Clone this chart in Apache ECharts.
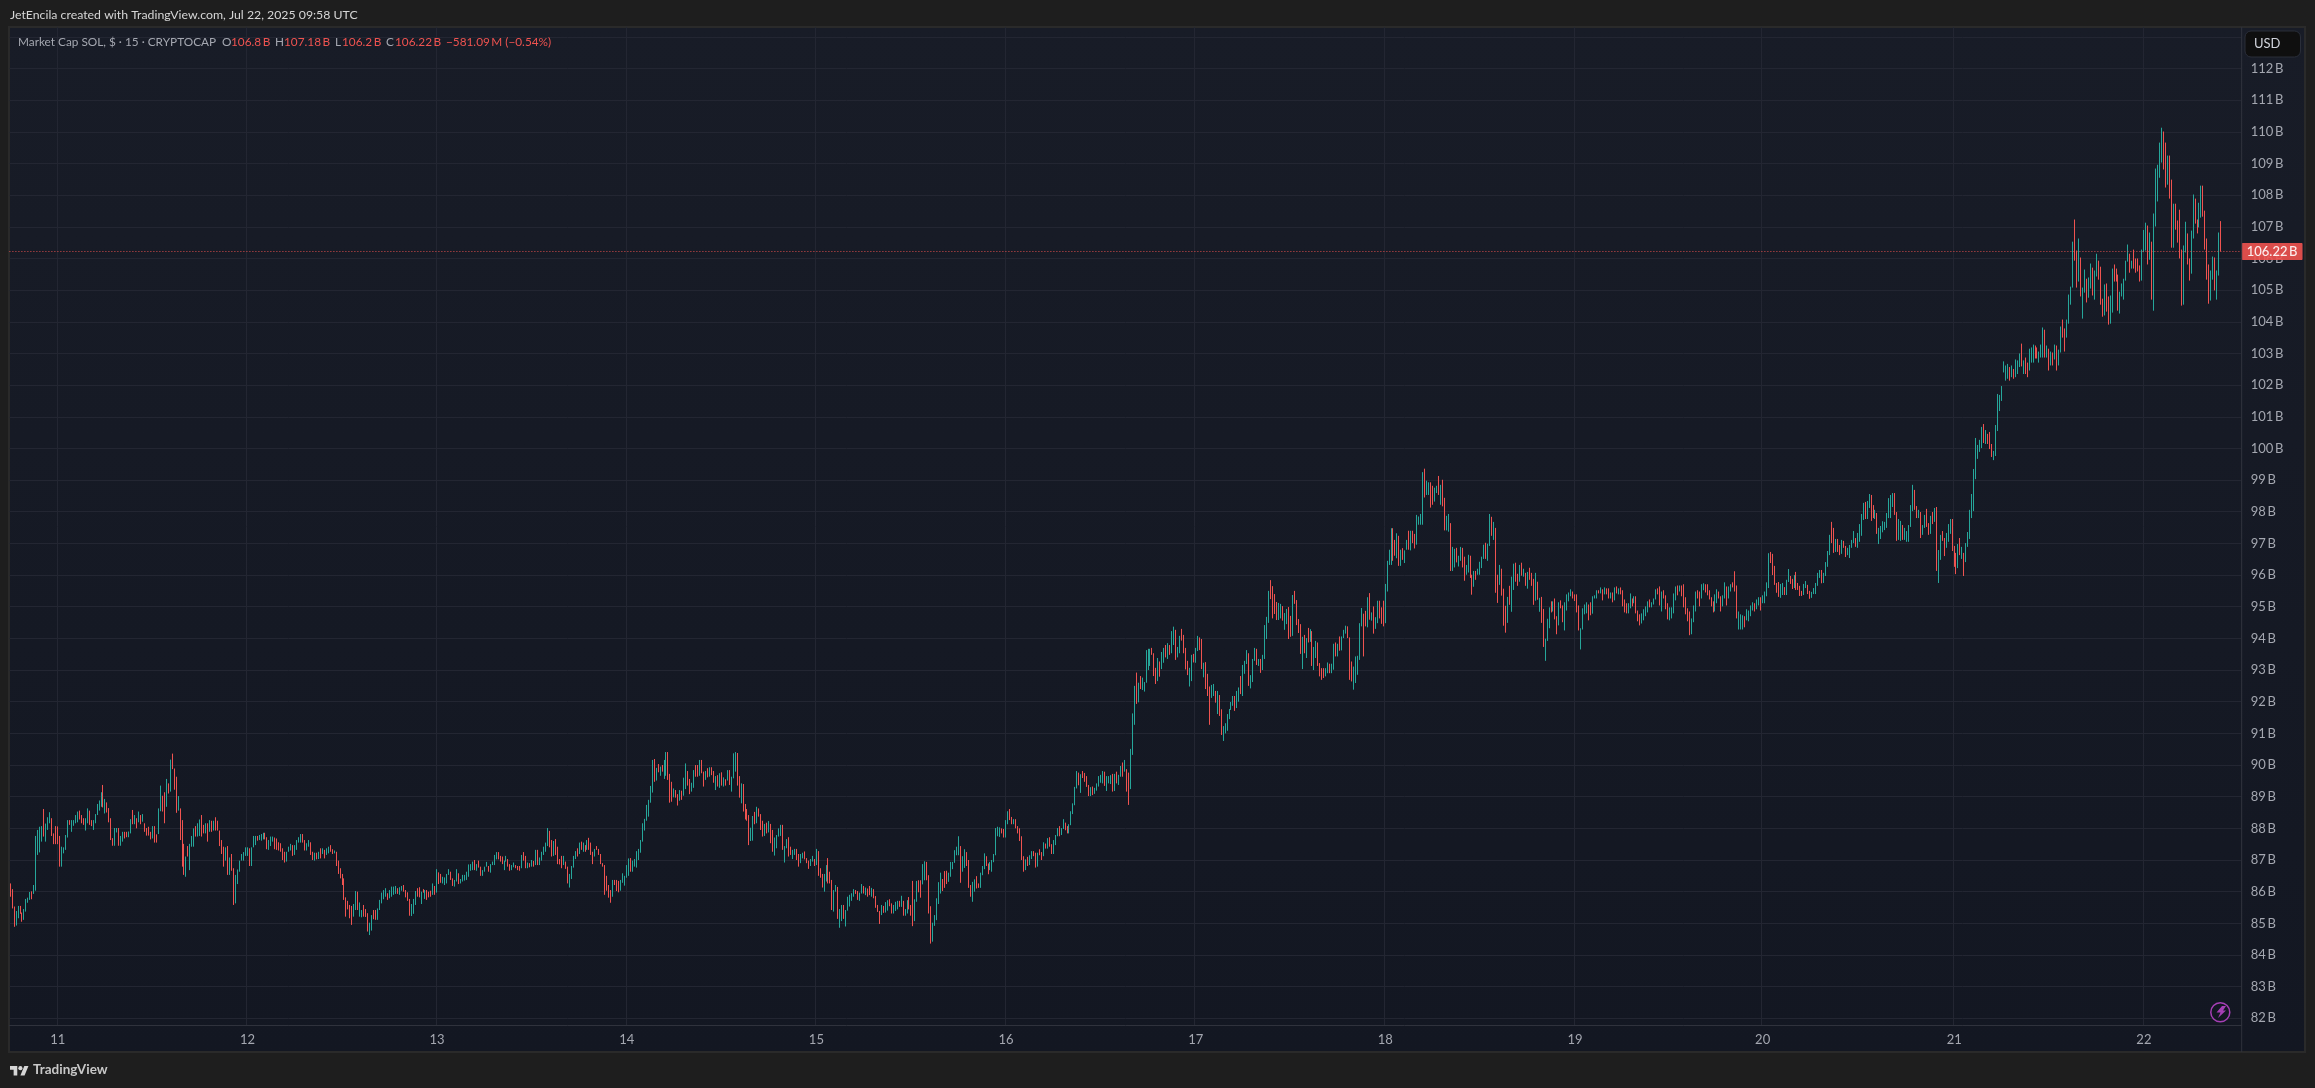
<!DOCTYPE html>
<html><head><meta charset="utf-8">
<style>html,body{margin:0;padding:0;background:#1e1e1e;width:100%;height:100%;overflow:hidden}#c{width:2315px;height:1088px}</style>
<script src="https://cdn.jsdelivr.net/npm/echarts@6/dist/echarts.min.js"></script>
</head><body><div id="c"></div>
<script>
// 15-minute bars, market cap in units of $10M, each bar read as [start, end] pair from the picture.
// At this scale wick and body are indistinguishable, so a bar's extent is its start and end.
const day10=[8626,8584,8608,8547,8553,8489,8493,8539,8516,8555,8555,8530,8534,8505,8511,8545,8537,8577,8565,8581,8574,8599,8601,8576,8593,8621,8603,8776,8716,8795,8724,8805,8758,8807,8861,8774,8758,8815,8795,8835,8816,8851,8832,8776,8784,8750,8807,8750];
const day11=[8806,8750,8776,8679,8679,8742,8721,8740,8732,8779,8771,8826,8826,8811,8789,8826,8808,8826,8816,8842,8819,8853,8856,8828,8842,8816,8832,8811,8793,8832,8816,8863,8856,8811,8826,8807,8795,8826,8816,8845,8842,8877,8856,8888,8868,8914,8937,8866,8847,8893,8882,8850,8864,8819,8832,8763,8769,8745,8745,8801,8787,8801,8801,8745,8745,8776,8758,8789,8789,8768,8789,8772,8772,8790,8784,8829,8858,8813,8813,8842,8832,8800,8819,8853,8842,8813,8821,8845,8816,8789,8801,8777,8805,8777,8789,8765,8768,8807,8807,8755,8781,8755,8782,8863,8854,8935,8903,8853,8914,8816,8868,8956,8942,8910,8916,9017,9036,8987,8989,8922,8963,8849,8856,8902,8863,8763,8826,8679,8751,8653,8647,8711,8744,8711,8668,8751,8742,8776,8742,8800,8807,8774,8774,8816,8776,8828,8842,8774,8811,8784,8784,8816,8816,8758,8789,8826,8824,8789,8793,8824,8835,8793,8824,8793,8793,8744,8763,8719,8742,8679,8698,8740,8744,8653,8653,8708,8719,8666,8674,8558,8563,8653,8624,8670,8663,8698,8698,8719,8698,8725,8713,8740];
const day12=[8713,8740,8737,8681,8681,8740,8740,8776,8747,8776,8776,8761,8763,8779,8761,8782,8765,8786,8786,8765,8772,8734,8732,8763,8744,8774,8758,8774,8771,8734,8768,8732,8756,8730,8753,8726,8737,8700,8726,8692,8695,8726,8726,8742,8730,8751,8747,8713,8716,8747,8732,8763,8755,8772,8755,8782,8782,8755,8763,8730,8730,8753,8742,8763,8756,8716,8726,8700,8698,8723,8723,8702,8703,8726,8737,8705,8719,8737,8732,8705,8716,8737,8721,8742,8747,8726,8734,8719,8721,8730,8726,8681,8698,8656,8674,8642,8656,8621,8642,8574,8582,8521,8571,8544,8558,8516,8555,8495,8521,8561,8542,8602,8600,8542,8521,8566,8519,8542,8558,8521,8545,8520,8532,8474,8463,8502,8477,8526,8542,8513,8542,8511,8511,8547,8542,8574,8563,8597,8576,8605,8584,8611,8595,8574,8579,8605,8584,8616,8590,8616,8593,8618,8611,8593,8590,8614,8603,8618,8621,8600,8605,8582,8598,8571,8577,8524,8523,8561,8530,8577,8558,8602,8611,8584,8614,8582,8561,8600,8608,8597,8577,8605,8605,8574,8600,8582,8603,8584,8590,8626,8618,8590];
const day13=[8597,8671,8661,8624,8656,8628,8626,8647,8621,8645,8626,8656,8653,8671,8663,8637,8642,8618,8616,8637,8632,8671,8658,8624,8626,8640,8632,8653,8635,8653,8637,8663,8647,8686,8666,8687,8668,8695,8700,8668,8666,8687,8698,8676,8679,8650,8650,8668,8663,8679,8679,8694,8681,8663,8660,8687,8684,8695,8684,8716,8702,8725,8725,8702,8713,8695,8711,8687,8668,8698,8695,8713,8703,8679,8687,8666,8668,8684,8677,8692,8684,8674,8681,8668,8681,8666,8674,8716,8725,8698,8713,8674,8674,8692,8690,8677,8679,8700,8697,8679,8684,8732,8732,8684,8684,8708,8698,8726,8716,8742,8726,8755,8744,8801,8792,8740,8763,8711,8713,8760,8766,8716,8742,8687,8703,8686,8713,8674,8684,8713,8695,8672,8679,8626,8613,8656,8640,8681,8676,8713,8703,8728,8737,8711,8719,8755,8758,8732,8726,8755,8747,8726,8732,8763,8770,8732,8755,8716,8726,8687,8711,8735,8744,8732,8735,8716,8719,8687,8690,8679,8684,8590,8650,8603,8621,8581,8605,8565,8584,8637,8637,8621,8637,8602,8634,8598,8603,8637,8628,8658,8619,8650];
const day14=[8644,8684,8650,8705,8706,8663,8663,8698,8679,8703,8676,8728,8700,8735,8723,8763,8758,8816,8793,8830,8824,8874,8837,8890,8881,8934,8913,9016,9019,8947,8951,8991,9003,8977,8966,8995,9000,8979,8956,9016,8966,9041,9041,8953,8972,8881,8947,8884,8898,8926,8921,8897,8908,8872,8887,8921,8919,8890,8903,8960,8924,9005,8981,8935,8956,8908,8916,8944,8928,8984,9000,8963,9000,8963,8966,9016,9016,8974,8979,8932,8953,8981,8990,8961,8963,8993,8993,8968,8981,8944,8921,8965,8968,8932,8928,8974,8977,8935,8932,8961,8955,8935,8951,8984,8984,8937,8916,8963,8958,9037,8979,9041,9038,8935,8965,8897,8879,8942,8940,8853,8877,8828,8861,8824,8842,8747,8760,8802,8761,8839,8852,8813,8816,8868,8863,8837,8845,8795,8824,8774,8776,8814,8818,8784,8787,8823,8814,8753,8795,8726,8714,8771,8737,8779,8774,8800,8776,8811,8811,8732,8692,8744,8737,8766,8772,8711,8742,8716,8703,8732,8716,8735,8735,8700,8719,8679,8690,8719,8705,8723,8727,8702,8706,8690,8698,8672,8681,8703,8695,8713,8703,8681];
const day15=[8684,8735,8728,8650,8674,8644,8656,8613,8600,8656,8632,8684,8706,8626,8663,8626,8637,8542,8537,8605,8600,8621,8615,8514,8486,8545,8507,8558,8558,8514,8490,8542,8540,8584,8553,8590,8571,8595,8584,8608,8605,8593,8602,8574,8571,8597,8594,8624,8618,8594,8589,8613,8610,8584,8618,8589,8584,8612,8608,8579,8586,8549,8558,8536,8539,8498,8526,8558,8555,8533,8534,8567,8540,8573,8576,8554,8563,8531,8531,8558,8539,8568,8544,8571,8571,8552,8552,8587,8571,8524,8524,8545,8531,8573,8583,8544,8558,8524,8634,8491,8507,8576,8568,8634,8636,8598,8636,8581,8623,8687,8636,8696,8694,8636,8652,8531,8554,8436,8442,8502,8492,8526,8510,8579,8561,8630,8594,8660,8640,8602,8665,8612,8666,8624,8631,8660,8647,8694,8671,8694,8691,8731,8715,8742,8715,8775,8744,8628,8663,8712,8675,8734,8725,8681,8700,8612,8621,8584,8568,8631,8600,8639,8649,8610,8626,8612,8612,8660,8652,8681,8671,8721,8712,8681,8689,8655,8668,8694,8663,8700,8693,8719,8715,8801,8775,8805,8773,8803,8800,8784,8798,8771];
const day16=[8771,8826,8813,8854,8861,8826,8836,8813,8813,8829,8829,8800,8807,8784,8800,8760,8775,8700,8712,8663,8668,8702,8710,8681,8684,8715,8703,8728,8728,8712,8723,8676,8679,8723,8734,8715,8725,8700,8712,8756,8752,8736,8736,8769,8772,8742,8750,8719,8719,8763,8747,8779,8775,8801,8807,8775,8779,8801,8798,8829,8818,8794,8807,8784,8784,8813,8810,8854,8845,8879,8873,8931,8926,8981,8976,8936,8912,8971,8981,8959,8975,8947,8965,8931,8937,8902,8902,8930,8932,8905,8909,8928,8919,8942,8932,8965,8944,8969,8942,8981,8979,8934,8918,8965,8942,8965,8940,8968,8972,8916,8918,8972,8979,8942,8937,8969,8963,8997,9008,8963,8979,9016,8987,8916,8976,8874,8924,9051,9032,9163,9127,9250,9292,9193,9198,9260,9281,9240,9237,9276,9232,9262,9260,9363,9300,9367,9313,9367,9370,9348,9353,9281,9307,9256,9265,9338,9327,9279,9303,9357,9323,9370,9379,9340,9335,9385,9379,9348,9353,9423,9379,9437,9427,9332,9340,9373,9353,9408,9430,9393,9411,9353,9370,9302,9329,9284,9248,9307,9265,9348,9351,9324];
const day17=[9323,9370,9360,9408,9403,9363,9398,9303,9277,9323,9325,9240,9288,9218,9248,9127,9212,9253,9218,9256,9234,9197,9161,9234,9221,9155,9176,9095,9076,9123,9100,9132,9108,9161,9145,9177,9174,9199,9187,9218,9218,9171,9180,9234,9200,9245,9281,9224,9218,9316,9288,9329,9319,9363,9353,9250,9242,9284,9262,9335,9329,9370,9367,9316,9313,9335,9335,9291,9300,9348,9335,9442,9398,9468,9449,9550,9584,9524,9565,9463,9540,9477,9515,9458,9458,9512,9463,9509,9502,9456,9427,9480,9445,9493,9499,9398,9471,9405,9408,9537,9550,9509,9521,9442,9461,9417,9445,9351,9303,9405,9411,9353,9338,9401,9433,9387,9389,9429,9423,9313,9300,9373,9338,9392,9387,9313,9322,9280,9306,9269,9306,9275,9280,9306,9290,9324,9320,9290,9290,9320,9301,9383,9387,9343,9343,9383,9406,9361,9362,9406,9401,9427,9415,9440,9438,9401,9403,9269,9327,9264,9238,9311,9259,9343,9285,9345,9332,9448,9438,9496,9478,9343,9487,9438,9435,9530,9543,9459,9456,9482,9501,9415,9430,9467,9448,9519,9519,9463,9498,9446,9519,9438];
const day18=[9448,9572,9548,9645,9632,9680,9632,9748,9748,9645,9711,9661,9653,9732,9724,9629,9629,9680,9685,9648,9638,9678,9680,9711,9740,9680,9678,9740,9740,9701,9730,9684,9696,9790,9759,9785,9759,9793,9759,9925,9936,9845,9853,9898,9853,9893,9893,9813,9882,9822,9832,9876,9859,9882,9913,9853,9822,9885,9901,9817,9844,9741,9741,9787,9737,9793,9764,9613,9613,9689,9624,9683,9686,9640,9627,9661,9645,9689,9686,9624,9658,9582,9601,9632,9608,9664,9661,9591,9601,9538,9563,9613,9613,9585,9601,9620,9601,9642,9622,9658,9651,9696,9702,9651,9645,9699,9692,9793,9784,9724,9711,9768,9749,9544,9601,9512,9569,9632,9620,9535,9557,9440,9503,9418,9449,9531,9566,9506,9484,9595,9553,9636,9639,9579,9604,9566,9579,9632,9639,9598,9595,9620,9607,9566,9557,9610,9623,9585,9607,9566,9588,9506,9519,9607,9579,9522,9484,9528,9531,9449,9493,9373,9329,9399,9392,9462,9432,9498,9517,9482,9485,9517,9526,9460,9470,9413,9441,9514,9520,9495,9504,9451,9425,9514,9488,9539,9517,9545,9533,9555,9548,9526];
const day19=[9539,9518,9539,9482,9504,9425,9365,9432,9428,9495,9476,9507,9479,9514,9507,9457,9514,9473,9478,9533,9526,9536,9526,9552,9552,9542,9542,9561,9555,9520,9539,9561,9558,9539,9558,9526,9526,9545,9545,9514,9520,9561,9564,9542,9539,9558,9561,9539,9552,9501,9523,9482,9511,9479,9479,9511,9495,9542,9526,9501,9511,9533,9533,9479,9488,9454,9476,9441,9447,9479,9457,9492,9470,9501,9482,9517,9523,9498,9498,9514,9507,9526,9523,9555,9558,9539,9564,9504,9485,9548,9552,9526,9536,9492,9511,9460,9457,9498,9463,9498,9479,9542,9520,9564,9567,9536,9548,9567,9567,9533,9571,9498,9530,9476,9495,9454,9485,9410,9413,9463,9451,9504,9485,9548,9552,9526,9548,9501,9526,9571,9552,9574,9571,9545,9571,9536,9552,9523,9530,9501,9517,9482,9485,9539,9511,9555,9548,9526,9533,9485,9501,9536,9526,9577,9564,9504,9526,9564,9548,9571,9577,9561,9612,9548,9567,9463,9428,9485,9428,9476,9428,9473,9470,9435,9457,9492,9454,9488,9470,9504,9488,9514,9511,9485,9492,9523,9504,9530,9530,9488];
const day20=[9511,9536,9511,9548,9533,9577,9559,9669,9673,9638,9667,9600,9629,9569,9575,9544,9578,9531,9528,9572,9537,9575,9562,9537,9537,9585,9578,9619,9597,9572,9588,9556,9559,9600,9610,9553,9575,9553,9566,9534,9550,9534,9537,9572,9559,9581,9569,9540,9550,9525,9528,9547,9540,9559,9540,9575,9566,9607,9591,9616,9616,9574,9575,9607,9597,9641,9626,9676,9663,9727,9768,9701,9749,9670,9673,9714,9714,9673,9695,9663,9667,9711,9708,9686,9692,9657,9663,9686,9654,9695,9686,9711,9701,9739,9717,9689,9686,9733,9705,9761,9724,9793,9774,9828,9831,9777,9777,9834,9812,9856,9853,9771,9821,9780,9777,9806,9796,9730,9698,9749,9714,9755,9735,9770,9742,9768,9749,9796,9780,9843,9780,9853,9815,9859,9859,9790,9799,9708,9711,9777,9708,9771,9758,9711,9711,9749,9705,9739,9705,9758,9752,9821,9802,9885,9869,9806,9818,9780,9780,9806,9799,9717,9727,9758,9749,9790,9809,9752,9764,9727,9730,9787,9799,9761,9768,9812,9815,9613,9575,9679,9648,9727,9739,9708,9717,9660,9686,9733,9705,9761,9730,9777,9777,9676];
const day21=[9692,9626,9670,9603,9622,9698,9717,9663,9651,9689,9670,9597,9641,9701,9689,9736,9714,9806,9780,9856,9802,9935,9903,10033,9967,10011,9989,10027,10001,10068,10077,10017,10014,10058,10046,10014,10052,9998,10014,9973,9963,9992,9976,10074,10055,10172,10118,10169,10150,10197,10240,10275,10214,10262,10220,10267,10257,10214,10225,10262,10251,10220,10225,10281,10235,10278,10257,10300,10331,10259,10235,10278,10287,10235,10271,10225,10246,10315,10271,10319,10271,10328,10325,10284,10319,10284,10271,10306,10287,10328,10287,10382,10375,10287,10287,10325,10315,10246,10262,10306,10303,10262,10281,10328,10325,10246,10262,10312,10303,10385,10407,10350,10379,10306,10350,10407,10394,10486,10454,10511,10508,10653,10723,10593,10625,10508,10527,10663,10603,10480,10410,10508,10492,10565,10536,10461,10476,10540,10505,10584,10571,10483,10470,10562,10543,10615,10593,10533,10574,10454,10473,10416,10420,10518,10521,10432,10480,10391,10394,10483,10429,10568,10581,10527,10568,10527,10549,10435,10426,10495,10480,10521,10470,10536,10530,10593,10590,10644,10615,10555,10568,10593,10628,10568,10600,10555,10600,10559,10578,10527,10530,10628];
const day22=[10620,10690,10625,10713,10704,10581,10596,10682,10653,10470,10435,10742,10701,10884,10780,10896,10855,10966,10903,11013,11001,10881,10966,10824,10833,10925,10925,10789,10849,10634,10634,10773,10773,10691,10720,10650,10754,10600,10628,10451,10454,10641,10619,10716,10679,10581,10600,10530,10552,10688,10663,10802,10789,10710,10723,10679,10698,10776,10729,10830,10830,10732,10751,10628,10663,10533,10581,10457,10467,10562,10533,10606,10603,10499,10470,10562,10546,10682,10718,10622];
const dayBars=[day10,day11,day12,day13,day14,day15,day16,day17,day18,day19,day20,day21,day22];
const dayLabels=['10','11','12','13','14','15','16','17','18','19','20','21','22'];
const lastPrice=106.22;

const candles=[],cats=[];
dayBars.forEach((d,di)=>{for(let k=0;k+1<d.length;k+=2){
  const o=d[k]/100,c=d[k+1]/100;
  candles.push([o,c,Math.min(o,c),Math.max(o,c)]);
  cats.push(k===0&&di>0?dayLabels[di]:'');
}});
while(cats.length<1130)cats.push('');

const grey='#a4a7b0',red='#ef5350',green='#26a69a',gridC='#232632',sep='#2f323c';
const font='Lato,"Open Sans",sans-serif';
const lf='11.8px '+font;
const thin='\u2009';
const legendParts=[['Market Cap SOL, $ · 15 · CRYPTOCAP',18,grey],['O',222,grey],['106.8'+thin+'B',231,red],['H',275,grey],['107.18'+thin+'B',284,red],['L',335,grey],['106.2'+thin+'B',342,red],['C',386,grey],['106.22'+thin+'B',395,red],['−581.09'+thin+'M (−0.54%)',446,red]];

const chart=echarts.init(document.getElementById('c'),null,{renderer:'canvas',width:2315,height:1088});
const P={x:9,y:27,w:2296,h:1025};
chart.setOption({
 animation:false,backgroundColor:'#1e1e1e',
 grid:[
  {left:9.4,width:2232.3,top:36.84,height:981.46,show:false},
  {left:9.4,width:2232.3,top:27,height:998.7,show:false}
 ],
 xAxis:[
  {gridIndex:0,type:'category',data:cats,show:false,boundaryGap:true},
  {gridIndex:1,type:'category',data:cats,boundaryGap:true,
   axisLine:{show:true,lineStyle:{color:sep}},axisTick:{show:false},
   axisLabel:{interval:(i,v)=>v!=='',color:grey,fontSize:13,fontFamily:font,margin:8,hideOverlap:false},
   splitLine:{show:true,interval:(i,v)=>v!=='',lineStyle:{color:gridC,width:1}}}
 ],
 yAxis:[
  {gridIndex:0,type:'value',position:'right',min:82,max:113,interval:1,
   axisLine:{show:false},axisTick:{show:false},
   axisLabel:{formatter:'{value}'+thin+'B',color:grey,fontSize:13,fontFamily:font,margin:9},
   splitLine:{show:true,lineStyle:{color:gridC,width:1}}},
  {gridIndex:1,type:'value',position:'right',min:0,max:1,show:false,splitLine:{show:false}}
 ],
 series:[{
  type:'candlestick',xAxisIndex:0,yAxisIndex:0,data:candles,barWidth:0.6,large:false,progressive:0,
  itemStyle:{color:green,color0:red,borderColor:green,borderColor0:red,borderWidth:1},
  markLine:{silent:true,symbol:'none',animation:false,
   lineStyle:{color:red,type:[1,2],width:1,opacity:0.9},
   label:{show:true,position:'end',distance:0,formatter:lastPrice+thin+'B',color:'#fff',backgroundColor:red,fontSize:13,fontWeight:500,fontFamily:font,padding:[2,5,2,5],borderRadius:1},
   data:[{yAxis:lastPrice}]}
 }],
 graphic:{elements:[
  {type:'rect',z:-10,silent:true,shape:{x:P.x,y:P.y,width:P.w,height:P.h},
   style:{fill:{type:'linear',x:0,y:0,x2:0,y2:1,colorStops:[{offset:0,color:'#181c27'},{offset:1,color:'#131722'}]},stroke:'#2a2a2a',lineWidth:2}},
  {type:'line',z:50,silent:true,shape:{x1:2241.7,y1:27,x2:2241.7,y2:1052},style:{stroke:sep,lineWidth:1}},
  {type:'text',z:50,silent:true,style:{x:10,y:15,text:'JetEncila created with TradingView.com, Jul 22, 2025 09:58 UTC',fill:'#d6d6d6',font:'12.3px '+font,verticalAlign:'middle'}},
  ...legendParts.map(p=>({type:'text',z:50,silent:true,style:{x:p[1],y:42,text:p[0],fill:p[2],font:lf,verticalAlign:'middle'}})),
  {type:'rect',z:60,silent:true,shape:{x:2245,y:31,width:55.5,height:26,r:6},style:{fill:'#0f0f0f',stroke:'#2a2e39',lineWidth:1}},
  {type:'text',z:61,silent:true,style:{x:2254,y:44,text:'USD',fill:'#d1d4dc',font:'13px '+font,verticalAlign:'middle'}},
  {type:'circle',z:60,silent:true,shape:{cx:2220.3,cy:1012.3,r:9.5},style:{fill:'#131722',stroke:'#a63fb5',lineWidth:1.5}},
  {type:'polygon',z:61,silent:true,shape:{points:[[2222,1006],[2226,1006],[2223,1010.5],[2226,1010.5],[2218,1018],[2220.5,1012.5],[2216.5,1012.5]]},style:{fill:'#a63fb5'}},
  {type:'group',z:50,silent:true,x:10,y:1064,scaleX:.52,scaleY:.52,children:[
    {type:'polygon',silent:true,shape:{points:[[14,22],[7,22],[7,11],[0,11],[0,4],[14,4]]},style:{fill:'#d6d6d6'}},
    {type:'polygon',silent:true,shape:{points:[[28,22],[20,22],[27.5,4],[35.5,4]]},style:{fill:'#d6d6d6'}},
    {type:'circle',silent:true,shape:{cx:20,cy:8,r:4},style:{fill:'#d6d6d6'}}
  ]},
  {type:'text',z:50,silent:true,style:{x:33,y:1070,text:'TradingView',fill:'#c8c8c8',font:'700 13.5px '+font,verticalAlign:'middle'}}
 ]}
});
</script></body></html>
